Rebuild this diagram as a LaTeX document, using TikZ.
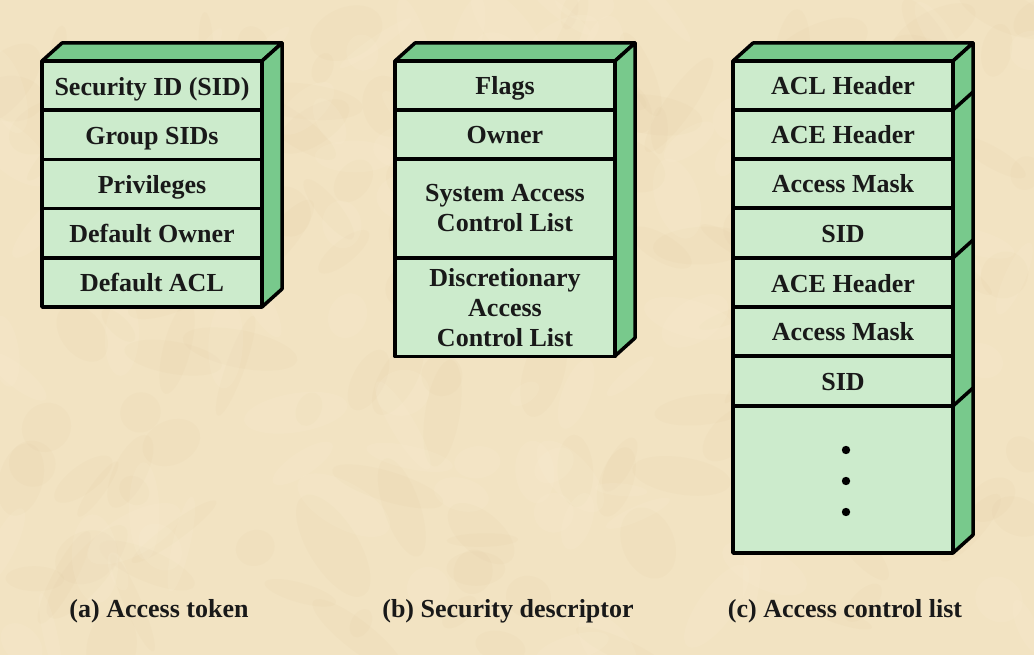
\documentclass[tikz,border=0pt]{standalone}
\usepackage{fontspec}
\setmainfont{Liberation Serif}
\begin{document}
\begin{tikzpicture}[x=1pt,y=-1pt,
  every node/.style={font=\fontsize{26}{30}\selectfont\bfseries, text=black!90},
  cell/.style={draw=black, line width=3.5pt, fill=frontgreen, minimum width=220pt, inner sep=0pt, outer sep=0pt, align=center, line join=round},
  single/.style={cell, text height=19pt, text depth=0pt},
  face/.style={draw=black, line width=3.5pt, fill=sidegreen, line join=round},
  caption/.style={inner sep=0pt, text height=17pt, text depth=0pt}
]
\definecolor{bg}{RGB}{242,227,194}
\definecolor{bgdark}{RGB}{218,195,150}
\definecolor{bglight}{RGB}{250,240,215}
\definecolor{frontgreen}{RGB}{204,235,204}
\definecolor{sidegreen}{RGB}{120,201,140}
\useasboundingbox[fill=bg] (0,0) rectangle (1034,655);
\begin{scope}
\clip (0,0) rectangle (1034,655);
\pgfmathsetseed{7}
\foreach \i in {1,...,160}{
  \pgfmathsetmacro{\px}{rnd*1034}
  \pgfmathsetmacro{\py}{rnd*655}
  \pgfmathsetmacro{\rx}{15+rnd*45}
  \pgfmathsetmacro{\ry}{6+rnd*20}
  \pgfmathsetmacro{\ang}{rnd*180}
  \fill[bgdark, opacity=0.08, rotate around={\ang:(\px,\py)}] (\px,\py) ellipse ({\rx} and {\ry});
}
\foreach \i in {1,...,100}{
  \pgfmathsetmacro{\px}{rnd*1034}
  \pgfmathsetmacro{\py}{rnd*655}
  \pgfmathsetmacro{\rx}{15+rnd*40}
  \pgfmathsetmacro{\ry}{6+rnd*18}
  \pgfmathsetmacro{\ang}{rnd*180}
  \fill[bglight, opacity=0.15, rotate around={\ang:(\px,\py)}] (\px,\py) ellipse ({\rx} and {\ry});
}
\end{scope}

% ---- (a) Access token ----
\draw[face] (42,61) -- (62,43) -- (282,43) -- (262,61) -- cycle;
\draw[face] (262,61) -- (282,43) -- (282,289) -- (262,307) -- cycle;
\node[single, minimum height=49.2pt] (a1) at (152,85.6) {Security ID (SID)};
\node[single, minimum height=49.2pt] (a2) at (152,134.8) {Group SIDs};
\node[single, minimum height=49.2pt] (a3) at (152,184) {Privileges};
\node[single, minimum height=49.2pt] (a4) at (152,233.2) {Default Owner};
\node[single, minimum height=49.2pt] (a5) at (152,282.4) {Default ACL};

% ---- (b) Security descriptor ----
\draw[face] (395,61) -- (415,43) -- (635,43) -- (615,61) -- cycle;
\draw[face] (615,61) -- (635,43) -- (635,338) -- (615,356) -- cycle;
\node[single, minimum height=49pt] (b1) at (505,85.5) {Flags};
\node[single, minimum height=49pt] (b2) at (505,134.5) {Owner};
\node[cell, minimum height=99pt] (b3) at (505,208.5) {System Access\\Control List};
\node[cell, minimum height=98pt] (b4) at (505,307.5) {Discretionary\\Access\\Control List};

% ---- (c) Access control list ----
\draw[face] (733,61) -- (753,43) -- (973,43) -- (953,61) -- cycle;
\draw[face] (953,61) -- (973,43) -- (973,535) -- (953,553) -- cycle;
\draw[black, line width=3.5pt] (953,110) -- (973,92);
\draw[black, line width=3.5pt] (953,258) -- (973,240);
\draw[black, line width=3.5pt] (953,406) -- (973,388);
\node[single, minimum height=49pt] (c1) at (843,85.5) {ACL Header};
\node[single, minimum height=49pt] (c2) at (843,134.5) {ACE Header};
\node[single, minimum height=49pt] (c3) at (843,183.5) {Access Mask};
\node[single, minimum height=50pt] (c4) at (843,233) {SID};
\node[single, minimum height=49pt] (c5) at (843,282.5) {ACE Header};
\node[single, minimum height=49pt] (c6) at (843,331.5) {Access Mask};
\node[single, minimum height=50pt] (c7) at (843,381) {SID};
\node[cell, minimum height=147pt] (c8) at (843,479.5) {};
\fill[black] (846,450) circle (4.2);
\fill[black] (846,481) circle (4.2);
\fill[black] (846,512) circle (4.2);

% ---- captions ----
\node[caption] (capa) at (159,609) {(a) Access token};
\node[caption] (capb) at (508,609) {(b) Security descriptor};
\node[caption] (capc) at (845,609) {(c) Access control list};
\end{tikzpicture}
\end{document}
